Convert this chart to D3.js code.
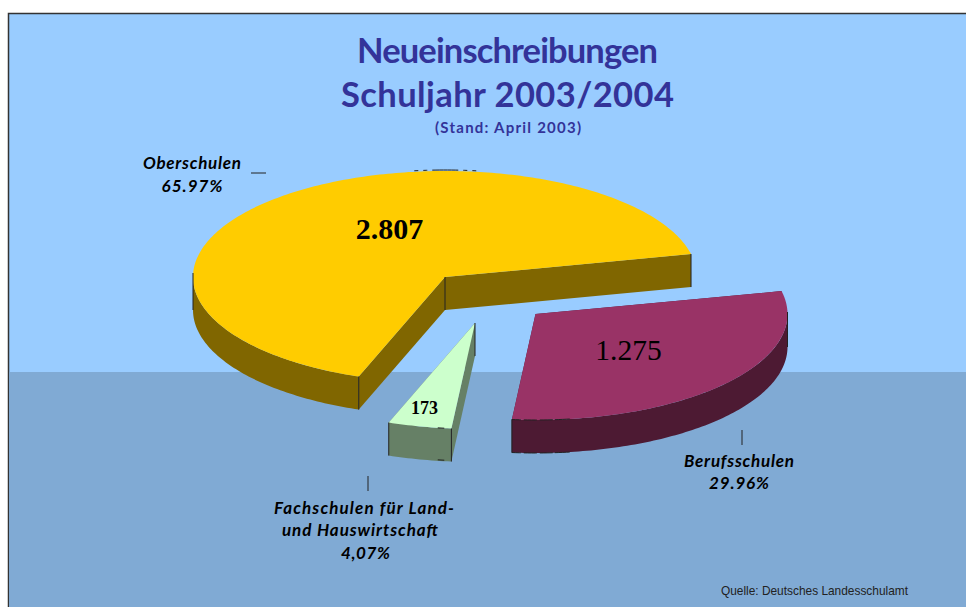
<!DOCTYPE html>
<html>
<head>
<meta charset="utf-8">
<script src="https://cdn.jsdelivr.net/npm/d3@7"></script>
<style>
html, body { margin:0; padding:0; background:#fff; overflow:hidden; }
svg { display:block; }
</style>
</head>
<body>
<div id="chart"></div>
<script>
// donnees
const categories = ["Berufsschulen", "Fachschulen", "Oberschulen"];
const values = [1275, 173, 2807];
const valueLabels = ["1.275", "173", "2.807"];
const titleLines = ["Neueinschreibungen", "Schuljahr 2003/2004"];
const subtitle = "(Stand: April 2003)";
const source = "Quelle: Deutsches Landesschulamt";
const labelLines = [
    ["Berufsschulen", "29.96%"],
    ["Fachschulen für Land-", "und Hauswirtschaft", "4,07%"],
    ["Oberschulen", "65.97%"]
];

const width = 966, height = 607;
const comic = "'Comic Sans MS', Lato, sans-serif";
const deg = Math.PI / 180;

// placement de chaque part (eclatee a la main dans l'original)
const layout = {
    Oberschulen: {cx:445, cy:277, top:"#ffcc00", side:"#806600", cut:true,
        val:[389.5,239,30,"bold"], lab:[[192,192],[169,192],[98,61]],
        tick:[[251,173],[266,173]],
        dashes:[{from:-7, to:7.2, dy:-1, pat:"4 5 4 5 26 5 4 5 4"}]},
    Berufsschulen: {cx:535.5, cy:314, top:"#993366", side:"#4d1a33", cut:false,
        val:[628.5,360,29.5,"normal"], lab:[[739,739],[467,489],[110,60]],
        tick:[[742,430],[742,445]],
        dashes:[{from:185.4, to:172, dy:0, pat:"9 3 13 3 13 2 15"}, {from:185.4, to:172, dy:33, pat:"9 3 13 3 13 2 15"}]},
    Fachschulen: {cx:475, cy:323, top:"#ccffcc", side:"#668066", cut:true,
        val:[424.5,414,18,"bold"], lab:[[364,360,365.5],[514,536,559],[180,156,49]],
        tick:[[368,476],[368,491]],
        dashes:[{from:187, to:188.5, dy:0, pat:"none"}, {from:187, to:188.5, dy:32, pat:"none"}]}
};
const rx = 252, ry = 106, depth = 33;
const start = 77.5 * deg;

const svg = d3.select("#chart").append("svg")
    .attr("width", width).attr("height", height);

// fond
const plot = svg.append("g");
plot.append("rect").attr("x", 8.5).attr("y", 13.5)
    .attr("width", width).attr("height", height)
    .attr("fill", "#99ccff").attr("stroke", "#333").attr("stroke-width", 1.5);
plot.append("rect").attr("x", 9.5).attr("y", 372)
    .attr("width", width).attr("height", height - 372)
    .attr("fill", "#80aad4");

// titre
const titleLengths = [301, 333];
titleLines.forEach((t, i) => {
    svg.append("text").attr("x", 507.5).attr("y", 63 + i * 44)
        .attr("text-anchor", "middle")
        .attr("font-family", comic).attr("font-weight", "bold").attr("font-size", 34.5)
        .attr("textLength", titleLengths[i])
        .attr("fill", "#333399").text(t);
});
svg.append("text").attr("x", 508).attr("y", 133)
    .attr("text-anchor", "middle")
    .attr("font-family", comic).attr("font-weight", "bold").attr("font-size", 15)
    .attr("textLength", 146)
    .attr("fill", "#333399").text(subtitle);

// parts
const pie = d3.pie().sort(null).startAngle(start).endAngle(start + 2 * Math.PI);
const arcs = pie(values);

// projection du cercle incline
const sx = d3.scaleLinear().domain([-1, 1]).range([-rx, rx]);
const sy = d3.scaleLinear().domain([-1, 1]).range([-ry, ry]);
const px = (c, a) => c.cx + sx(Math.sin(a));
const py = (c, a) => c.cy + sy(-Math.cos(a));
const line = d3.line().x(d => d[0]).y(d => d[1]);

function rim(c, a0, a1, dy) {
    const n = Math.max(2, Math.ceil(Math.abs(a1 - a0) * 60));
    return d3.range(n + 1).map(i => {
        const a = a0 + (a1 - a0) * i / n;
        return [px(c, a), py(c, a) + dy];
    });
}

const drawOrder = [2, 1, 0];
const gPie = svg.append("g");
drawOrder.forEach(i => {
    const d = arcs[i], c = layout[categories[i]];
    const g = gPie.append("g").attr("class", "part");
    const a0 = d.startAngle, a1 = d.endAngle;

    // faces coupees
    [a0, a1].forEach(a => {
        g.append("path").attr("fill", c.side).attr("d", line([
            [c.cx, c.cy], [px(c, a), py(c, a)],
            [px(c, a), py(c, a) + depth], [c.cx, c.cy + depth]
        ]) + "Z");
    });

    // bord visible, entre 90 et 270 degres
    const f0 = Math.max(a0, Math.PI / 2), f1 = Math.min(a1, 3 * Math.PI / 2);
    if (f1 > f0) {
        const upper = rim(c, f0, f1, 0), lower = rim(c, f0, f1, depth).reverse();
        g.append("path").attr("fill", c.side).attr("d", line(upper.concat(lower)) + "Z");
    }

    // dessus
    const top = [[c.cx, c.cy]].concat(rim(c, a0, a1, 0));
    g.append("path").attr("fill", c.top).attr("d", line(top) + "Z");

    // aretes verticales
    const edge = (x, y0, y1) => g.append("line")
        .attr("x1", x).attr("x2", x).attr("y1", y0).attr("y2", y1)
        .attr("stroke", "#222").attr("stroke-width", 1);
    [f0, f1].forEach(a => {
        const lift = (a === f1 && i === 2) ? 4 : (a === f0 && i === 0 ? 2 : 0);
        edge(px(c, a), py(c, a) - lift, py(c, a) + depth);
    });
    if (c.cut) {
        edge(c.cx, c.cy, c.cy + depth);
        if (i === 2) edge(px(c, a1), py(c, a1), py(c, a1) + depth);
    }

    // restes de pointilles sur les bords
    c.dashes.forEach(s => {
        g.append("path").attr("d", line(rim(c, s.from * deg, s.to * deg, s.dy)))
            .attr("fill", "none").attr("stroke", "#222").attr("stroke-width", 1)
            .attr("stroke-dasharray", s.pat);
    });
});

// textes des valeurs, etiquettes, traits
categories.forEach((cat, i) => {
    const c = layout[cat];
    svg.append("text").attr("x", c.val[0]).attr("y", c.val[1])
        .attr("text-anchor", "middle")
        .attr("font-family", "'Liberation Serif', 'Times New Roman', serif")
        .attr("font-size", c.val[2]).attr("font-weight", c.val[3])
        .attr("fill", "#000").text(valueLabels[i]);
    labelLines[i].forEach((t, j) => {
        svg.append("text").attr("x", c.lab[0][j]).attr("y", c.lab[1][j])
            .attr("text-anchor", "middle")
            .attr("font-family", comic).attr("font-weight", "bold").attr("font-style", "italic")
            .attr("font-size", 17).attr("textLength", c.lab[2][j])
            .attr("fill", "#000").text(t);
    });
    svg.append("path").attr("d", line(c.tick)).attr("stroke", "#222").attr("fill", "none");
});

svg.append("text").attr("x", 908).attr("y", 595)
    .attr("text-anchor", "end")
    .attr("font-family", "'Liberation Sans', Arial, sans-serif")
    .attr("font-size", 11.9).attr("fill", "#222").text(source);
</script>
</body>
</html>
